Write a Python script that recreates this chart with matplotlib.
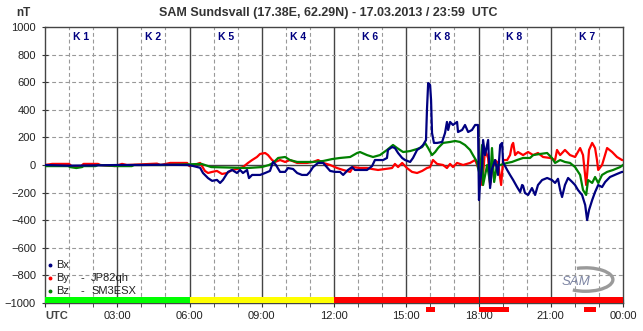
import numpy as np
import matplotlib.pyplot as plt
from matplotlib.patches import Arc

plt.rcParams['font.family'] = ['Liberation Sans', 'DejaVu Sans']

# magnetometer components, time in hours UTC, values in nT
bx_t = [0, 1.0, 2.0, 3.0, 4.0, 5.0, 5.9, 6.1, 6.44, 6.56, 6.77, 6.94, 7.14, 7.27, 7.39, 7.60, 7.77, 7.97,
        8.10, 8.22, 8.39, 8.47, 8.60, 8.93, 9.14, 9.34, 9.47, 9.59, 9.76, 9.97, 10.09, 10.30, 10.47, 10.67,
        10.88, 11.0, 11.13, 11.34, 11.55, 11.84, 12.04, 12.25, 12.38, 12.58, 12.75, 12.87, 13.08, 13.37,
        13.58, 13.70, 14.04, 14.20, 14.24, 14.41, 14.53, 14.66, 14.83, 14.95, 15.16, 15.28, 15.45, 15.57,
        15.70, 15.82, 15.86, 15.91, 15.99, 16.03, 16.07, 16.15, 16.28, 16.49, 16.61, 16.69, 16.74, 16.82,
        16.94, 17.11, 17.15, 17.32, 17.44, 17.57, 17.73, 17.86, 17.98, 18.02, 18.06, 18.15, 18.19, 18.27,
        18.36, 18.40, 18.48, 18.56, 18.69, 18.81, 18.90, 18.98, 19.02, 19.19, 19.31, 19.44, 19.60, 19.73,
        19.81, 19.85, 19.93, 20.06, 20.22, 20.35, 20.47, 20.64, 20.85, 21.05, 21.18, 21.30, 21.39, 21.47,
        21.59, 21.72, 21.89, 22.01, 22.13, 22.30, 22.43, 22.51, 22.59, 22.72, 22.84, 22.97, 23.13, 23.26,
        23.46, 23.75, 23.96, 24.0]
bx_v = [0, -5, -3, 0, 0, 2, 0, -5, -20, -58, -95, -115, -108, -130, -108, -50, -36, -58,
        -36, -58, -36, -95, -72, -72, -58, -43, 22, 0, -50, -50, -22, -29, -58, -72,
        -72, -50, -15, 15, 15, -43, -50, -50, -72, -36, -15, -36, -36, -36,
        -8, 36, 36, 51, 109, 130, 123, 87, 51, 36, 22, 51, 109, 123,
        145, 181, 400, 594, 580, 471, 232, 160, 160, 167, 232, 312, 254, 312,
        290, 312, 239, 254, 290, 239, 254, 290, 290, -254, -145, 0, 181, 72,
        145, 181, -167, -30, 36, -72, 145, 160, 20, -36, -72, -109, -159, -196,
        -145, -150, -203, -217, -167, -217, -145, -109, -94, -109, -130, -100, -181, -232,
        -145, -94, -123, -145, -181, -217, -290, -399, -326, -254, -196, -145, -160, -123,
        -87, -65, -50, -50]

by_t = [0, 0.3, 1.0, 1.1, 1.5, 1.6, 2.2, 2.3, 2.9, 3.2, 3.4, 4.65, 4.8, 5.2, 5.9, 6.0, 6.2, 6.44,
        6.64, 6.77, 6.94, 7.14, 7.35, 7.56, 7.77, 7.97, 8.22, 8.43, 8.60, 8.80, 8.93, 9.14, 9.26, 9.43,
        9.55, 9.76, 9.97, 10.17, 10.47, 10.88, 11.13, 11.34, 11.55, 11.84, 12.13, 12.38, 12.67, 12.79,
        13.08, 13.37, 13.58, 13.83, 14.12, 14.41, 14.53, 14.66, 14.83, 15.03, 15.24, 15.45, 15.66, 15.86,
        15.99, 16.11, 16.28, 16.53, 16.69, 16.82, 16.94, 17.11, 17.36, 17.65, 17.86, 17.98, 18.06, 18.15,
        18.19, 18.27, 18.40, 18.48, 18.56, 18.69, 18.81, 18.94, 19.02, 19.19, 19.31, 19.39, 19.44, 19.52,
        19.64, 19.85, 20.06, 20.27, 20.47, 20.68, 20.97, 21.18, 21.26, 21.39, 21.59, 21.80, 22.01, 22.22,
        22.34, 22.47, 22.51, 22.59, 22.72, 22.84, 22.92, 22.97, 23.13, 23.34, 23.55, 23.75, 23.96, 24.0]
by_v = [0, 8, 8, -8, -8, 8, 8, 0, -8, 8, 0, 10, 0, 15, 15, -8, 0, 15,
        -43, -58, -50, -43, -65, -58, -36, -29, -15, 15, 36, 58, 80, 87, 72, 36,
        22, 36, 22, 36, 15, 15, 22, 36, 15, 0, -22, -36, -50, -15,
        -22, -22, -29, -36, -29, -22, 8, -15, 15, -22, -50, -58, -43, -22,
        -15, 36, 8, 0, -22, 8, -15, 15, 0, 15, 36, -15, 0, -145,
        -70, 109, 50, -145, -40, 36, 15, -145, 36, 36, 72, 145, 160, 72,
        94, 72, 94, 72, 87, 58, 51, 36, 109, 72, 109, 72, 58, 123,
        72, -145, -70, 109, 160, 123, 36, -36, 0, 123, 94, 58, 36, 36]

bz_t = [0, 0.97, 1.04, 1.3, 1.54, 1.6, 2.1, 2.2, 3.0, 3.6, 3.7, 5.0, 6.0, 6.5, 6.9, 8.4, 9.0, 9.3,
        9.47, 9.68, 9.97, 10.17, 10.47, 11.13, 11.55, 11.92, 12.25, 12.67, 12.96, 13.08, 13.37, 13.62,
        13.91, 14.20, 14.45, 14.62, 14.74, 14.87, 15.16, 15.45, 15.66, 15.78, 15.91, 16.07, 16.20, 16.32,
        16.53, 16.82, 17.03, 17.23, 17.44, 17.65, 17.77, 17.94, 17.98, 18.06, 18.15, 18.19, 18.36, 18.48,
        18.56, 18.65, 18.77, 18.90, 19.19, 19.39, 19.60, 19.85, 20.14, 20.27, 20.56, 20.85, 21.05, 21.18,
        21.39, 21.59, 21.80, 22.01, 22.22, 22.34, 22.47, 22.55, 22.72, 22.84, 22.97, 23.13, 23.34, 23.59,
        23.88, 24.0]
bz_v = [-8, -8, -15, -22, -15, -8, -8, 0, -8, -8, 0, 0, 5, 8, -15, -22, -15, 0,
        15, 51, 58, 36, 22, 22, 29, 43, 51, 58, 87, 94, 72, 58,
        72, 109, 145, 123, 109, 94, 101, 116, 130, 160, 123, 72, 94, 123,
        160, 167, 174, 167, 145, 109, 72, 22, -22, -72, 145, -145, 0, -130,
        123, -123, 0, 0, 15, 22, 36, 51, 51, 72, 80, 87, 51, 15,
        36, 22, 15, -15, -72, -181, -217, -109, -130, -87, -130, -72, -50, -36,
        -15, 0]

# K index per 3 hour block
k_index = [1, 2, 5, 4, 6, 8, 8, 7]

# status bar along the bottom
status_start = [0, 6, 12, 18.06]
status_end = [6, 12, 18, 24]
status_color = ['#00ff00', '#ffff00', '#ff0000', '#ff0000']

# storm markers under the axis
storm_start = [15.82, 18.02, 22.38]
storm_end = [16.20, 19.27, 22.88]

hour_labels = ['UTC', '03:00', '06:00', '09:00', '12:00', '15:00', '18:00', '21:00', '00:00']

fig = plt.figure(figsize=(6.43, 3.31), dpi=100)
ax = fig.add_axes([45 / 643, 28 / 331, 578 / 643, 276 / 331])
ax.set_xlim(0, 24)
ax.set_ylim(-1000, 1000)

# grid: dashed every hour / 200 nT, solid every 3 hours and at zero
for h in range(1, 24):
    if h % 3 == 0:
        ax.axvline(h, color='#444444', lw=1.0, zorder=1)
    else:
        ax.axvline(h, color='#999999', lw=0.8, ls=(0, (3.5, 2.5)), zorder=1)
for y in range(-800, 1000, 200):
    if y == 0:
        ax.axhline(y, color='#444444', lw=1.0, zorder=1)
    else:
        ax.axhline(y, color='#999999', lw=0.8, ls=(0, (3.5, 2.5)), zorder=1)

ax.plot(by_t, by_v, color='#ff0000', lw=1.6, zorder=3)
ax.plot(bz_t, bz_v, color='#008000', lw=1.6, zorder=4)
ax.plot(bx_t, bx_v, color='#000080', lw=1.6, zorder=5)

for s, e, c in zip(status_start, status_end, status_color):
    ax.broken_barh([(s, e - s)], (-1000, 45), facecolors=c, zorder=6)
for s, e in zip(storm_start, storm_end):
    ax.broken_barh([(s, e - s)], (-1065, 33), facecolors='#ff0000', clip_on=False, zorder=6)

for i, k in enumerate(k_index):
    ax.text(3 * i + 1.5, 928, 'K %d' % k, ha='center', va='center', fontsize=7.5,
            fontweight='bold', color='#000080', zorder=7)

# legend
legend_rows = [('Bx', '', '', '#000080'), ('By', '-', 'JP82qh', '#ff0000'), ('Bz', '-', 'SM3ESX', '#008000')]
for i, (name, dash, call, col) in enumerate(legend_rows):
    yy = 0.138 - i * 0.0472
    ax.plot([0.0087], [yy], 'o', ms=1.8, color=col, transform=ax.transAxes, zorder=7)
    ax.text(0.019, yy, name, transform=ax.transAxes, va='center', fontsize=8, color='#222222')
    ax.text(0.0606, yy, dash, transform=ax.transAxes, va='center', fontsize=8, color='#222222')
    ax.text(0.0796, yy, call, transform=ax.transAxes, va='center', fontsize=8, color='#222222')

# logo: swoosh behind the letters
ax.add_patch(Arc((0.935, 0.085), 0.095, 0.085, angle=0, theta1=-120, theta2=110,
                 transform=ax.transAxes, color='#9a9a9a', lw=2.4, zorder=7))
ax.text(0.918, 0.076, 'SAM', transform=ax.transAxes, ha='center', va='center', fontsize=9.5,
        fontstyle='italic', color='#7d85a3', zorder=8)

ax.set_yticks(np.arange(-1000, 1001, 200))
ax.set_xticks(np.arange(0, 25, 3))
ax.set_xticks(np.arange(0, 25, 1), minor=True)
ax.set_xticklabels(hour_labels)
ax.tick_params(axis='both', which='both', direction='inout', color='#333333', labelcolor='#222222',
               labelsize=8)
ax.tick_params(axis='y', length=5, pad=4)
ax.tick_params(axis='x', which='both', length=6, pad=3)
lbl = ax.get_xticklabels()[0]
lbl.set_fontweight('bold')
lbl.set_color('#444444')
lbl.set_horizontalalignment('left')
for sp in ax.spines.values():
    sp.set_color('#444444')
    sp.set_linewidth(1.0)

fig.text(328 / 643, 1 - 13 / 331, 'SAM Sundsvall (17.38E, 62.29N) - 17.03.2013 / 23:59  UTC',
         ha='center', va='center', fontsize=9, fontweight='bold', color='#333333')
fig.text(23 / 643, 1 - 13 / 331, 'nT', ha='center', va='center', fontsize=8.5,
         fontweight='bold', color='#333333')

fig.savefig('out.png', dpi=100, facecolor='white')
